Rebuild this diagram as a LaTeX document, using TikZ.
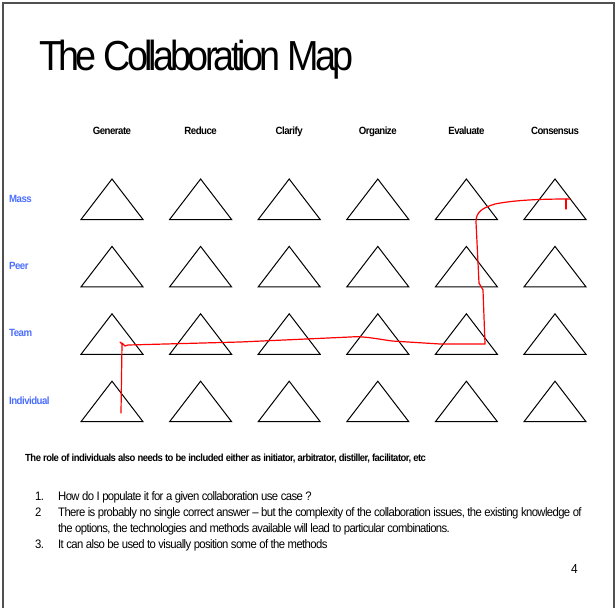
\documentclass[tikz,border=0pt]{standalone}
\usepackage{fontspec}
\setmainfont{Liberation Sans}[FakeStretch=0.92, LetterSpace=-5]
\newfontfamily\titlefont{Liberation Sans}[FakeStretch=0.9, LetterSpace=-9]

\definecolor{rowblue}{RGB}{75,110,255}
\definecolor{framegray}{RGB}{80,80,80}

\def\colstep{88.6}
\def\rowstep{67.4}

\tikzset{
  colhead/.style={anchor=base, font=\bfseries\fontsize{10.5}{10.5}\selectfont},
  rowhead/.style={anchor=base west, text=rowblue, font=\bfseries\fontsize{10.5}{10.5}\selectfont},
  cell/.style={line width=1pt, line join=miter},
  path/.style={red, line width=1.2pt, line join=round, line cap=round},
  bodytext/.style={anchor=base west, font=\fontsize{12.3}{14}\selectfont}
}

\begin{document}
\begin{tikzpicture}[x=1pt, y=-1pt, every node/.style={inner sep=0pt}]
      \useasboundingbox (0,0) rectangle (616,608);
      \draw[framegray, line width=2pt] (2.5,608) -- (2.5,2.5) -- (613.5,2.5) -- (613.5,608);

      \node[anchor=base west, font=\titlefont\fontsize{42}{42}\selectfont] (title) at (39,70) {The Collaboration Map};

      \foreach \name [count=\i] in {Generate,Reduce,Clarify,Organize,Evaluate,Consensus}
        \node[colhead] (col\i) at ({112+\colstep*(\i-1)},134) {\name};
      \foreach \name [count=\j] in {Mass,Peer,Team,Individual}
        \node[rowhead] (row\j) at (9,{202+\rowstep*(\j-1)}) {\name};

      \foreach \i in {0,...,5}
        \foreach \j in {0,...,3}
          \draw[cell] ({112+\colstep*\i},{179+\rowstep*\j}) -- ++(31,40.5) -- ++(-62,0) -- cycle;

      \draw[path] (121,413) -- (122,344) -- (120,342)
        (122,343) -- (125,346) -- (128,345) -- (240,342) -- (350,337)
        .. controls (362,336) and (372,338) .. (392,341)
        -- (440,344) -- (485,344) -- (483,290) -- (479,283) -- (476,222)
        .. controls (476,212) and (482,208) .. (495,204)
        .. controls (515,200) and (540,199) .. (570,199);
      \draw[path] (566,199) -- (566,209);

      \node[anchor=base west, font=\bfseries\fontsize{10.3}{10.3}\selectfont] (note) at (25,461)
        {The role of individuals also needs to be included either as initiator, arbitrator, distiller, facilitator, etc};

      \node[bodytext] (n1) at (35,500) {1.};
      \node[bodytext] (t1) at (58,500) {How do I populate it for a given collaboration use case ?};
      \node[bodytext] (n2) at (35,516) {2};
      \node[bodytext] (t2) at (58,516) {There is probably no single correct answer -- but the complexity of the collaboration issues, the existing knowledge of};
      \node[bodytext] (t2b) at (58,532) {the options, the technologies and methods available will lead to particular combinations.};
      \node[bodytext] (n3) at (35,548) {3.};
      \node[bodytext] (t3) at (58,548) {It can also be used to visually position some of the methods};

      \node[anchor=base west, font=\fontsize{13}{13}\selectfont] (page) at (571,573) {4};
\end{tikzpicture}
\end{document}
